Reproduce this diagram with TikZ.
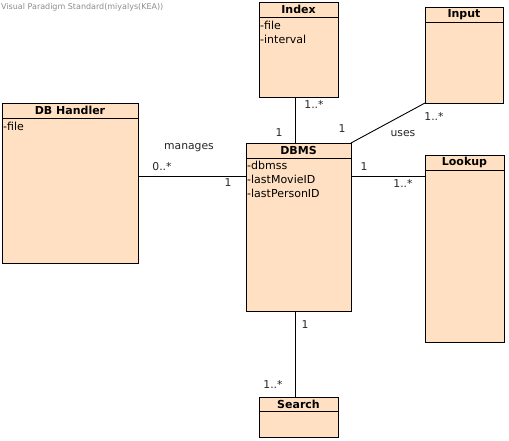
\documentclass[tikz,border=0pt]{standalone}
\usepackage{fontspec}
\setmainfont{DejaVu Sans}
\definecolor{peach}{RGB}{255,224,194}
\definecolor{wm}{RGB}{140,140,140}
\tikzset{
  cls/.style={draw=black, fill=peach, line width=0.9pt, anchor=north west, inner sep=0pt, outer sep=0pt},
  ctitle/.style={font=\fontsize{11}{13}\selectfont\bfseries, inner sep=0pt},
  attr/.style={font=\fontsize{11}{13}\selectfont, inner sep=0pt, anchor=base west},
  lbl/.style={font=\fontsize{10.8}{13}\selectfont, inner sep=0pt, text=black!85},
  conn/.style={draw=black, line width=0.9pt}
}
\begin{document}
\begin{tikzpicture}[x=1pt,y=-1pt]
\useasboundingbox (0,0) rectangle (509,441);
\node[font=\fontsize{8}{9}\selectfont, text=wm, anchor=west, inner sep=0pt] (wmark) at (1,7) {Visual Paradigm Standard(miyalys(KEA))};

% classes
\node[cls, minimum width=79pt, minimum height=95pt] (index) at (259,2) {};
\node[cls, minimum width=78pt, minimum height=96pt] (input) at (425,7) {};
\node[cls, minimum width=136pt, minimum height=160pt] (dbh) at (2,103) {};
\node[cls, minimum width=105pt, minimum height=168pt] (dbms) at (246,143) {};
\node[cls, minimum width=79pt, minimum height=187pt] (lookup) at (425,155) {};
\node[cls, minimum width=79pt, minimum height=40pt] (search) at (259,397) {};

% header lines
\foreach \n in {index,input,dbh,dbms,lookup}{
  \draw[line width=0.9pt] ([yshift=-15pt]\n.north west) -- ([yshift=-15pt]\n.north east);
}
\draw[line width=0.9pt] ([yshift=-14pt]search.north west) -- ([yshift=-14pt]search.north east);

% titles
\node[ctitle] (tindex) at ([yshift=-7.5pt]index.north) {Index};
\node[ctitle] (tinput) at ([yshift=-7.5pt]input.north) {Input};
\node[ctitle] (tdbh) at ([yshift=-7.5pt]dbh.north) {DB Handler};
\node[ctitle] (tdbms) at ([yshift=-7.5pt]dbms.north) {DBMS};
\node[ctitle] (tlookup) at ([yshift=-7.5pt]lookup.north) {Lookup};
\node[ctitle] (tsearch) at ([yshift=-7pt]search.north) {Search};

% attributes
\node[attr] (a1) at ([xshift=1pt,yshift=-27.5pt]index.north west) {-file};
\node[attr] (a2) at ([xshift=1pt,yshift=-41.5pt]index.north west) {-interval};
\node[attr] (a3) at ([xshift=1pt,yshift=-28pt]dbh.north west) {-file};
\node[attr] (a4) at ([xshift=1pt,yshift=-27pt]dbms.north west) {-dbmss};
\node[attr] (a5) at ([xshift=1pt,yshift=-41pt]dbms.north west) {-lastMovieID};
\node[attr] (a6) at ([xshift=1pt,yshift=-54.5pt]dbms.north west) {-lastPersonID};

% connectors
\coordinate (h) at (0,176);
\coordinate (v) at (295,0);
\draw[conn] (index.south -| v) -- (dbms.north -| v);
\draw[conn] (input.south west) -- (dbms.north east);
\draw[conn] (dbh.east |- h) -- (dbms.west |- h);
\draw[conn] (dbms.east |- h) -- (lookup.west |- h);
\draw[conn] (dbms.south -| v) -- (search.north -| v);

% labels
\node[lbl] (l1) at (314,104) {1..*};
\node[lbl] (l2) at (279,133) {1};
\node[lbl] (l3) at (342,129) {1};
\node[lbl] (l4) at (434,116) {1..*};
\node[lbl] (l5) at (403,134) {uses};
\node[lbl] (l6) at (189,148) {manages};
\node[lbl] (l7) at (162,167) {0..*};
\node[lbl] (l8) at (228,183) {1};
\node[lbl] (l9) at (364,167) {1};
\node[lbl] (l10) at (403,183) {1..*};
\node[lbl] (l11) at (305,325) {1};
\node[lbl] (l12) at (273,384) {1..*};
\end{tikzpicture}
\end{document}
